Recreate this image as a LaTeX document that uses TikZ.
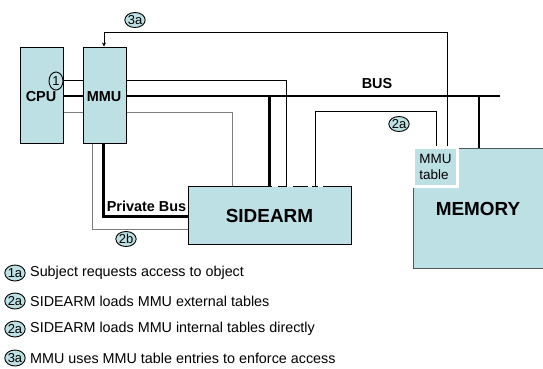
\documentclass[tikz,border=0pt]{standalone}
\usetikzlibrary{shapes.geometric,arrows.meta}
\usepackage{fontspec}
\setmainfont{Liberation Sans}
\definecolor{boxfill}{RGB}{188,224,227}
\definecolor{linegray}{RGB}{125,125,125}
\definecolor{memedge}{RGB}{80,88,90}
\begin{document}
\begin{tikzpicture}[x=1bp,y=-1bp,
  box/.style={draw=black,fill=boxfill,line width=1bp,inner sep=0,rectangle},
  tag/.style={ellipse,draw=black,fill=boxfill,line width=0.9bp,inner sep=0,
    minimum width=19bp,minimum height=15bp,font=\fontsize{13}{13}\selectfont},
  wire/.style={line width=0.8bp,draw=black},
  graywire/.style={line width=0.9bp,draw=linegray},
  buswire/.style={line width=2.6bp,draw=black},
  blabel/.style={font=\fontsize{14.5}{16}\selectfont\bfseries,inner sep=0},
  biglabel/.style={font=\fontsize{19}{21}\selectfont\bfseries,inner sep=0},
  legtext/.style={anchor=west,font=\fontsize{14.4}{16}\selectfont,inner sep=0}
]
\useasboundingbox (0,0) rectangle (543,368);

% boxes
\node[box,minimum width=43bp,minimum height=96bp] (cpu) at (41.5,95) {};
\node[blabel] (cpulab) at (41,97) {CPU};
\node[box,minimum width=43bp,minimum height=96bp] (mmu) at (104.5,95) {};
\node[blabel] (mmulab) at (104,97) {MMU};
\node[box,minimum width=163bp,minimum height=58bp] (sid) at (269.5,215) {};
\node[biglabel] (sidlab) at (269.5,216) {SIDEARM};
\node[box,draw=memedge,minimum width=136bp,minimum height=120bp] (mem) at (481,208) {};
\node[biglabel] (memlab) at (478,209) {MEMORY};
\node[rectangle,fill=boxfill,draw=white,line width=3bp,inner sep=0,
  minimum width=44bp,minimum height=39bp,align=left,
  font=\fontsize{13.5}{16}\selectfont] (tbl) at (435.5,167) {MMU\\table};

% gaps in the SIDEARM top edge
\draw[white,line width=1.4bp] (272,186) -- (278,186) (287,186) -- (293,186) (308,186) -- (312,186) (318,186) -- (323,186);

% helper coordinates
\coordinate (yA) at (0,80);
\coordinate (yB) at (0,96);
\coordinate (yC) at (0,112);
\coordinate (k1) at (286,80);
\coordinate (k2) at (232,112);
\coordinate (busend) at (500,96);
\coordinate (d1) at (269.5,96);
\coordinate (d2) at (479,96);
\coordinate (k3) at (315,111);
\coordinate (k4) at (436,111);
\coordinate (k5) at (447,32);
\coordinate (k6) at (104,32);
\coordinate (k7) at (103.5,216.5);
\coordinate (k8) at (92,229);

% CPU - MMU links
\draw[wire] (cpu.east |- yA) -- (mmu.west |- yA);
\draw[buswire] (cpu.east |- yB) -- (mmu.west |- yB);
\draw[graywire] (cpu.east |- yC) -- (mmu.west |- yC);

% MMU to the right
\draw[wire] (mmu.east |- yA) -| (sid.north -| k1);
\draw[buswire] (mmu.east |- yB) -- (busend);
\draw[graywire] (mmu.east |- yC) -| (sid.north -| k2);
\draw[buswire] (d1) -- (sid.north -| d1);
\draw[buswire] (d2) -- (mem.north -| d2);

% 2a path
\draw[wire] (sid.north -| k3) |- (k4) -- (tbl.north -| k4);

% 3a path
\draw[wire,-{Stealth[length=4bp,width=4bp]}] (tbl.north -| k5) -- (k5) -- (k6) -- (mmu.north -| k6);

% private bus and 2b path
\draw[buswire] (mmu.south -| k7) |- (sid.west |- k7);
\draw[graywire] (mmu.south -| k8) |- (sid.west |- k8);

% labels
\node[blabel] (buslab) at (377,84) {BUS};
\node[blabel] (pblab) at (146.5,206) {Private Bus};

% tags
\node[tag] (t3a) at (135,20) {3a};
\node[tag] (t2a) at (399,124) {2a};
\node[tag] (t2b) at (126,239) {2b};
\node[tag,minimum width=14bp,minimum height=18bp] (t1) at (56,81) {1};

% legend
\node[tag,minimum width=20bp,minimum height=16bp] (l1) at (15,273) {1a};
\node[legtext] (lt1) at (30,273) {Subject requests access to object};
\node[tag,minimum width=20bp,minimum height=16bp] (l2) at (15,301) {2a};
\node[legtext] (lt2) at (30,301) {SIDEARM loads MMU external tables};
\node[tag,minimum width=20bp,minimum height=16bp] (l3) at (15,329) {2a};
\node[legtext] (lt3) at (30,329) {SIDEARM loads MMU internal tables directly};
\node[tag,minimum width=20bp,minimum height=16bp] (l4) at (15,358) {3a};
\node[legtext] (lt4) at (30,358) {MMU uses MMU table entries to enforce access};
\end{tikzpicture}
\end{document}
